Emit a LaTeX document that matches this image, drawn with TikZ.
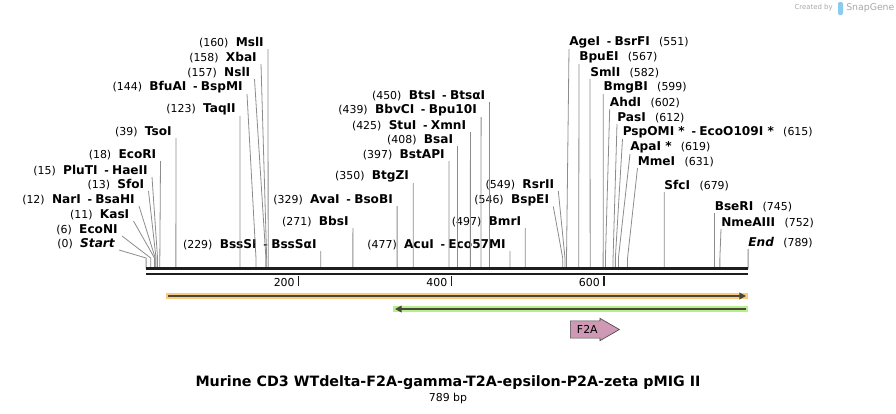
\documentclass[tikz,border=0pt]{standalone}
\usepackage{fontspec}
\setmainfont{DejaVu Sans}
\usetikzlibrary{arrows.meta,shapes.arrows}

\definecolor{sitegray}{HTML}{8C8C8C}
\definecolor{bardark}{HTML}{1E1E1E}
\definecolor{orangeband}{HTML}{FACB7E}
\definecolor{greenband}{HTML}{B5F08C}
\definecolor{featline}{HTML}{4A4638}
\definecolor{f2afill}{HTML}{CF98B5}
\definecolor{creditgray}{HTML}{A8A8A8}
\definecolor{logoblue}{HTML}{8CCBF0}

\newcommand{\numfont}{\fontsize{8.2}{9}\selectfont}
\newcommand{\enzfont}{\fontsize{9.1}{10}\selectfont\bfseries}
\newcommand{\lft}[2]{{\numfont(#1)}\hspace{5.5pt}{\enzfont #2}}
\newcommand{\rgt}[2]{{\enzfont #1}\hspace{7pt}{\numfont(#2)}}
\newcommand{\dsh}{\hspace{5pt}{\numfont-}\hspace{2.5pt}}

\begin{document}
\begin{tikzpicture}[x=0.75pt,y=-0.75pt,
    lbl/.style={inner xsep=3pt,inner ysep=0.4pt,anchor=south east},
    rlbl/.style={inner xsep=0pt,inner ysep=0.4pt,anchor=south west},
    site/.style={draw=sitegray,line width=0.6pt},
    seqbar/.style={draw=bardark,line width=2.3pt},
    tickmark/.style={draw=bardark,line width=1.1pt}]
\useasboundingbox (0,0) rectangle (896,414);

% Sites sur la sequence
\foreach \p in {0,6,11,12,13,15,18,39,123,144,157,158,160,229,271,329,350,397,408,425,439,450,477,497,546,549,551,567,582,599,602,612,615,619,631,679,745,752,789}
    \coordinate (s\p) at ({146.1+0.763*\p},268.5);
\coordinate (bend) at (0,258);

% Enzymes a gauche
\node[lbl] (msl) at (268,49) {\lft{160}{MslI}};
\node[lbl] (xba) at (261,64) {\lft{158}{XbaI}};
\node[lbl] (nsl) at (254.5,79) {\lft{157}{NslI}};
\node[lbl] (bfu) at (247,94) {\lft{144}{BfuAI\dsh BspMI}};
\node[lbl] (taq) at (240,116) {\lft{123}{TaqII}};
\node[lbl] (tso) at (176,138) {\lft{39}{TsoI}};
\node[lbl] (ecori) at (160.5,161) {\lft{18}{EcoRI}};
\node[lbl] (plu) at (152,177) {\lft{15}{PluTI\dsh HaeII}};
\node[lbl] (sfo) at (148.5,191) {\lft{13}{SfoI}};
\node[lbl] (nar) at (139,206) {\lft{12}{NarI\dsh BsaHI}};
\node[lbl] (kas) at (133.5,221) {\lft{11}{KasI}};
\node[lbl] (econ) at (122,236) {\lft{6}{EcoNI}};
\node[lbl] (start) at (119,250) {\lft{0}{\itshape Start}};

% Enzymes au milieu
\node[lbl] (bts) at (489.5,102) {\lft{450}{BtsI\dsh BtsαI}};
\node[lbl] (bbv) at (481.1,117) {\lft{439}{BbvCI\dsh Bpu10I}};
\node[lbl] (stu) at (470.4,132) {\lft{425}{StuI\dsh XmnI}};
\node[lbl] (bsa) at (457.4,146) {\lft{408}{BsaI}};
\node[lbl] (bstapi) at (449,161) {\lft{397}{BstAPI}};
\node[lbl] (btg) at (413.2,183) {\lft{350}{BtgZI}};
\node[lbl] (ava) at (397.1,206) {\lft{329}{AvaI\dsh BsoBI}};
\node[lbl] (bbs) at (352.9,228) {\lft{271}{BbsI}};
\node[lbl] (bss) at (320.8,251) {\lft{229}{BssSI\dsh BssSαI}};
\node[lbl] (acu) at (510,251) {\lft{477}{AcuI\dsh Eco57MI}};
\node[lbl] (bmr) at (525.3,228) {\lft{497}{BmrI}};
\node[lbl] (rsr) at (558.3,191) {\lft{549}{RsrII}};
\node[lbl] (bspe) at (553.3,206.5) {\lft{546}{BspEI}};

% Enzymes a droite
\node[rlbl] (age) at (569,49) {\rgt{AgeI\dsh BsrFI}{551}};
\node[rlbl] (bpue) at (579,64) {\rgt{BpuEI}{567}};
\node[rlbl] (sml) at (590,79) {\rgt{SmlI}{582}};
\node[rlbl] (bmg) at (603.3,94) {\rgt{BmgBI}{599}};
\node[rlbl] (ahd) at (609.7,109) {\rgt{AhdI}{602}};
\node[rlbl] (pas) at (617,124) {\rgt{PasI}{612}};
\node[rlbl] (psp) at (622.5,139) {\rgt{PspOMI *\dsh EcoO109I *}{615}};
\node[rlbl] (apa) at (630,154) {\rgt{ApaI *}{619}};
\node[rlbl] (mme) at (637.5,168) {\rgt{MmeI}{631}};
\node[rlbl] (sfc) at (664.2,192) {\rgt{SfcI}{679}};
\node[rlbl] (bse) at (714.5,213) {\rgt{BseRI}{745}};
\node[rlbl] (nme) at (721,229) {\rgt{NmeAIII}{752}};
\node[rlbl] (fin) at (748.1,249) {\rgt{\itshape End}{789}};

% Traits vers la sequence
\foreach \n/\p in {msl/160,xba/158,nsl/157,bfu/144,taq/123,tso/39,ecori/18,plu/15,sfo/13,nar/12,kas/11,econ/6,start/0,bts/450,bbv/439,stu/425,bsa/408,bstapi/397,btg/350,ava/329,bbs/271,bss/229,acu/477,bmr/497,rsr/549,bspe/546}
    \draw[site] (\n.south east) -- (s\p |- bend) -- (s\p);
\foreach \n/\p in {age/551,bpue/567,sml/582,bmg/599,ahd/602,pas/612,psp/615,apa/619,mme/631,sfc/679,bse/745,nme/752,fin/789}
    \draw[site] (\n.south west) -- (s\p |- bend) -- (s\p);

% Sequence et graduation
\draw[seqbar] (s0) -- (s789);
\draw[draw=bardark,line width=1.9pt] (s0 |- 0,274) -- (s789 |- 0,274);
\foreach \t in {200,400,600} {
    \coordinate (t\t) at ({146.1+0.763*\t},275.5);
    \draw[tickmark] (t\t) -- ++(0,10)
        node[anchor=base east,inner xsep=2.5pt,inner ysep=0pt,yshift=-1pt] {\numfont\t};
}

% Features
\draw[orangeband,line width=5pt] (166,296) -- (748,296);
\draw[featline,line width=1.6pt,-{Triangle[length=5pt,width=5pt]}] (168,296) -- (746,296);
\draw[greenband,line width=5pt] (393,309) -- (748,309);
\draw[featline,line width=1.6pt,-{Triangle[length=5pt,width=5pt]}] (746,309) -- (395,309);
\node[single arrow,draw=black!70,line width=0.5pt,fill=f2afill,
      minimum height=36.75pt,inner xsep=1.5pt,inner ysep=3.2pt,
      single arrow head extend=1.9pt,single arrow tip angle=60,
      anchor=west,font=\numfont] (f2a) at (570,329.5) {F2A};

% Titre
\node (title) at (448,383) {\fontsize{10.7}{12}\selectfont\bfseries Murine CD3 WTdelta-F2A-gamma-T2A-epsilon-P2A-zeta pMIG II};
\node (len) at (448,398) {\fontsize{8.2}{9}\selectfont 789 bp};

% Credit
\node[anchor=east,text=creditgray,inner sep=0pt] (credit) at (833,8) {\fontsize{5.2}{6}\selectfont Created by};
\fill[logoblue,rounded corners=1pt] (838,2) rectangle (843,15);
\node[anchor=west,text=creditgray,inner sep=0pt] (snapgene) at (846,8) {\fontsize{7}{8}\selectfont SnapGene};
\end{tikzpicture}
\end{document}
